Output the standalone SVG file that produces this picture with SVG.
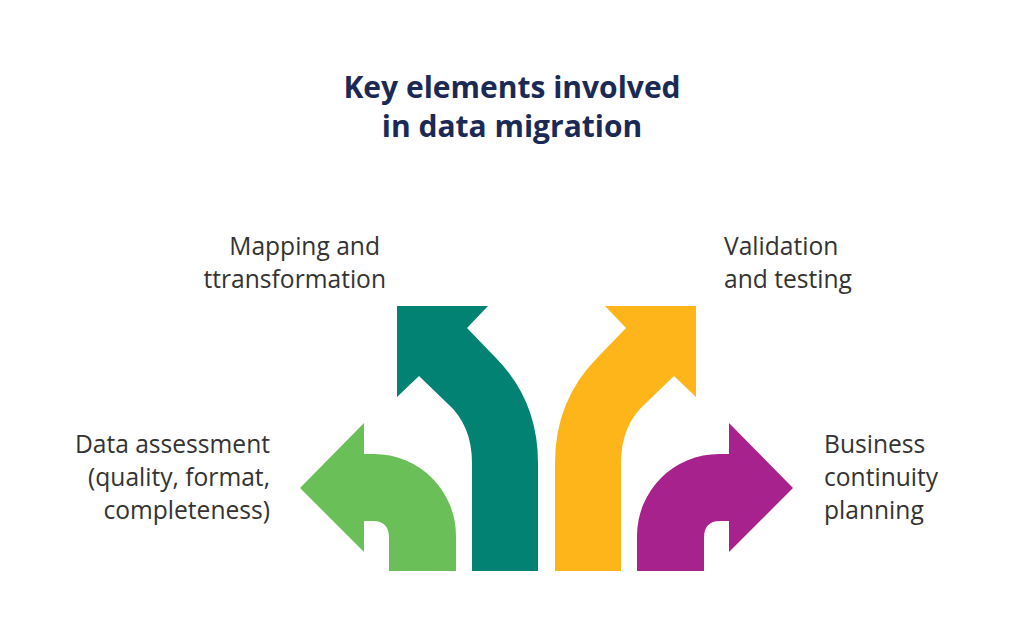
<svg xmlns="http://www.w3.org/2000/svg" width="1024" height="631" viewBox="0 0 1024 631">
<style>
.t{font-family:"Open Sans",sans-serif;font-size:30px;font-weight:bold;fill:#1b2a55;text-anchor:middle}
.l{font-family:"Open Sans",sans-serif;font-size:24.6px;fill:#333}
</style>
<rect width="1024" height="631" fill="#fff"/>
<g id="title"><text class="t" x="512" y="98">Key elements involved</text><text class="t" x="512" y="137">in data migration</text></g>
<g id="green"><path fill="#6abf58" d="M300,488 L364,423 L364,454 L374,454 A82,82 0 0 1 456,536 L456,571 L389,571 L389,538 Q389,521 373,521 L364,521 L364,552 Z"/>
<text class="l" text-anchor="end" x="270" y="453">Data assessment</text><text class="l" text-anchor="end" x="270" y="486">(quality, format,</text><text class="l" text-anchor="end" x="270" y="519">completeness)</text></g>
<g id="teal"><path fill="#028272" d="M397,306 L488,306 L467,328 L495,357 Q538,400 538,463 L538,571 L472,571 L472,463 Q472,425 447,403 L419,376 L397,397 Z"/>
<text class="l" text-anchor="end" x="380" y="255">Mapping and</text><text class="l" text-anchor="end" x="386" y="288">ttransformation</text></g>
<g id="yellow"><path fill="#fdb51a" d="M696,306 L605,306 L626,328 L598,357 Q555,400 555,463 L555,571 L621,571 L621,463 Q621,425 646,403 L674,376 L696,397 Z"/>
<text class="l" x="724" y="255">Validation</text><text class="l" x="724" y="288">and testing</text></g>
<g id="purple"><path fill="#a7228d" d="M793,488 L729,423 L729,454 L719,454 A82,82 0 0 0 637,536 L637,571 L704,571 L704,538 Q704,521 720,521 L729,521 L729,552 Z"/>
<text class="l" x="824" y="453">Business</text><text class="l" x="824" y="486">continuity</text><text class="l" x="824" y="519">planning</text></g>
<g id="connectors"/>
</svg>
